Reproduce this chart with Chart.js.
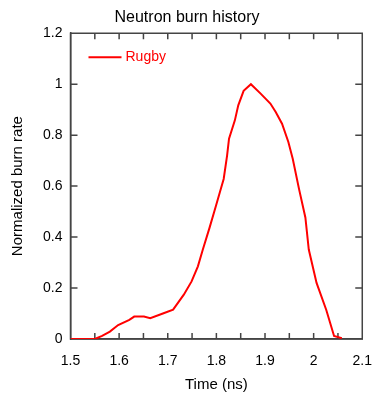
<!DOCTYPE html>
<html>
<head>
<meta charset="utf-8">
<script src="https://cdn.jsdelivr.net/npm/chart.js@4.4.1/dist/chart.umd.min.js"></script>
<style>
    html, body { margin: 0; padding: 0; background: #fff; }
    #wrap { width: 386px; height: 398px; }
</style>
</head>
<body>
<div id="wrap"><canvas id="burnChart"></canvas></div>
<script>
// Time (ns) and normalized burn rate
const timeNs = [1.50, 1.55, 1.565, 1.581, 1.598, 1.621, 1.631, 1.651, 1.664, 1.690, 1.711, 1.733, 1.749, 1.762,
    1.772, 1.786, 1.799, 1.807, 1.815, 1.822, 1.826, 1.838, 1.845, 1.856, 1.871, 1.891, 1.911, 1.922, 1.935,
    1.948, 1.957, 1.970, 1.983, 1.990, 2.006, 2.026, 2.042, 2.058];
const burnRate = [0, 0, 0.012, 0.029, 0.055, 0.075, 0.088, 0.088, 0.082, 0.100, 0.115, 0.174, 0.226, 0.285,
    0.350, 0.437, 0.522, 0.575, 0.628, 0.720, 0.786, 0.858, 0.917, 0.974, 1.000, 0.963, 0.924, 0.891, 0.845,
    0.773, 0.707, 0.588, 0.477, 0.351, 0.220, 0.114, 0.012, 0.003];
const seriesName = 'Rugby';
const xTicks = [1.5, 1.6, 1.7, 1.8, 1.9, 2, 2.1];
const xMinorTicks = [1.5, 1.55, 1.6, 1.65, 1.7, 1.75, 1.8, 1.85, 1.9, 1.95, 2, 2.05, 2.1];
const yTicks = [0, 0.2, 0.4, 0.6, 0.8, 1, 1.2];

const FONT = "'Liberation Sans', Arial, Helvetica, sans-serif";
const AXIS = '#444444';
const fmt = v => String(+Number(v).toFixed(2));

// frame round the plot, inward tick marks on all four sides, legend inside top-left
const frameTicks = {
    id: 'frameTicks',
    beforeDatasetsDraw(chart) {
        const { ctx, chartArea: a, scales } = chart;
        ctx.save();
        ctx.strokeStyle = AXIS;
        ctx.lineWidth = 1.5;
        ctx.beginPath();
        xMinorTicks.forEach(v => {
            const px = scales.x.getPixelForValue(v);
            ctx.moveTo(px, a.bottom); ctx.lineTo(px, a.bottom - 6);
            ctx.moveTo(px, a.top); ctx.lineTo(px, a.top + 6);
        });
        yTicks.forEach(v => {
            const py = scales.y.getPixelForValue(v);
            ctx.moveTo(a.left, py); ctx.lineTo(a.left + 7, py);
            ctx.moveTo(a.right, py); ctx.lineTo(a.right - 7, py);
        });
        ctx.moveTo(a.left, a.top); ctx.lineTo(a.right, a.top);
        ctx.lineTo(a.right, a.bottom); ctx.lineTo(a.left, a.bottom);
        ctx.closePath();
        ctx.stroke();
        ctx.restore();
    },
    afterDraw(chart) {
        const { ctx, chartArea: a } = chart;
        const ds = chart.data.datasets[0];
        const ly = a.top + 24;
        ctx.save();
        ctx.strokeStyle = ds.borderColor;
        ctx.lineWidth = 2;
        ctx.beginPath();
        ctx.moveTo(a.left + 18, ly);
        ctx.lineTo(a.left + 51, ly);
        ctx.stroke();
        ctx.fillStyle = ds.borderColor;
        ctx.font = '14px ' + FONT;
        ctx.textBaseline = 'middle';
        ctx.textAlign = 'left';
        ctx.fillText(ds.label, a.left + 55, ly);
        ctx.restore();
    }
};

new Chart(document.getElementById('burnChart'), {
    type: 'line',
    data: {
        datasets: [{
            label: seriesName,
            data: timeNs.map((t, i) => ({ x: t, y: burnRate[i] })),
            borderColor: '#ff0000',
            backgroundColor: '#ff0000',
            borderWidth: 2,
            pointRadius: 0,
            tension: 0,
            fill: false
        }]
    },
    options: {
        responsive: true,
        maintainAspectRatio: false,
        animation: false,
        layout: { padding: { right: 12, left: 0, bottom: 0, top: 0 } },
        scales: {
            x: {
                type: 'linear',
                min: 1.5,
                max: 2.1,
                afterBuildTicks: s => { s.ticks = xTicks.map(v => ({ value: v })); },
                afterFit: s => { s.height = 59; },
                grid: { display: false, drawTicks: false },
                border: { display: true, color: AXIS, width: 1.5 },
                ticks: { color: '#000', padding: 14, maxRotation: 0, callback: fmt, font: { family: FONT, size: 14 } },
                title: {
                    display: true,
                    text: 'Time (ns)',
                    color: '#000',
                    padding: { top: 0, bottom: 4 },
                    font: { family: FONT, size: 15 }
                }
            },
            y: {
                min: 0,
                max: 1.2,
                afterBuildTicks: s => { s.ticks = yTicks.map(v => ({ value: v })); },
                afterFit: s => { s.width = 70.5; },
                grid: { display: false, drawTicks: false },
                border: { display: true, color: AXIS, width: 1.5 },
                ticks: { color: '#000', padding: 8, callback: fmt, font: { family: FONT, size: 14 } },
                title: {
                    display: true,
                    text: 'Normalized burn rate',
                    color: '#000',
                    padding: { top: 9, bottom: 0 },
                    font: { family: FONT, size: 15 }
                }
            }
        },
        plugins: {
            title: {
                display: true,
                text: 'Neutron burn history',
                color: '#000',
                padding: { top: 8, bottom: 6 },
                font: { family: FONT, size: 16, weight: 'normal' }
            },
            legend: { display: false },
            tooltip: { enabled: false }
        }
    },
    plugins: [frameTicks]
});
</script>
</body>
</html>
